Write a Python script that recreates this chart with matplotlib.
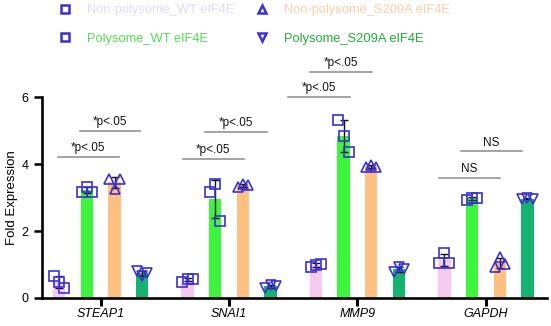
import numpy as np
import matplotlib
matplotlib.use('Agg')
import matplotlib.pyplot as plt
from matplotlib.lines import Line2D

plt.rcParams['font.family'] = ['Liberation Sans', 'DejaVu Sans']

# ---------------- data ----------------
genes = ['STEAP1', 'SNAI1', 'MMP9', 'GAPDH']
series_labels = ['Non-polysome_WT eIF4E', 'Polysome_WT eIF4E',
                 'Non-polysome_S209A eIF4E', 'Polysome_S209A eIF4E']

nonpoly_wt = [[0.67, 0.49, 0.31], [0.49, 0.57, 0.57], [0.92, 1.00, 1.02], [1.04, 1.33, 1.04]]
poly_wt = [[3.17, 3.32, 3.17], [3.15, 3.40, 2.30], [5.30, 4.85, 4.35], [2.93, 3.00, 3.00]]
nonpoly_s209a = [[3.55, 3.25, 3.55], [3.32, 3.40, 3.38], [3.90, 3.98, 3.92], [0.92, 1.22, 1.02]]
poly_s209a = [[0.80, 0.65, 0.76], [0.30, 0.38, 0.35], [0.78, 0.92, 0.88], [2.95, 2.98, 2.96]]

y_ticks = [0, 2, 4, 6]

# significance annotations: (gene index, left offset, right offset, height, label)
sig_group = [0, 0, 1, 1, 2, 2, 3, 3]
sig_left = [-0.335, -0.16, -0.36, -0.19, -0.54, -0.37, -0.365, -0.195]
sig_right = [0.145, 0.305, 0.115, 0.295, -0.06, 0.115, 0.11, 0.28]
sig_height = [4.22, 5.00, 4.16, 4.95, 6.00, 6.75, 3.59, 4.38]
sig_text = ['*p<.05', '*p<.05', '*p<.05', '*p<.05', '*p<.05', '*p<.05', 'NS', 'NS']

# ---------------- style ----------------
series_data = [nonpoly_wt, poly_wt, nonpoly_s209a, poly_s209a]
bar_colors = ['#f6c9ee', '#3df53d', '#ffbf80', '#16b370']
text_colors = ['#e6d8f2', '#55dd55', '#f8cfaa', '#1fae3a']
markers = ['s', 's', '^', 'v']
marker_color = '#3b30d6'
jitter = [-0.04, 0.0, 0.04]
slot = 0.2157
bar_width = 0.096

fig = plt.figure(figsize=(5.51, 3.26), dpi=100)
ax = fig.add_axes([42 / 551, 28 / 326, 505 / 551, 201 / 326])

x = np.arange(len(genes))
for si, data in enumerate(series_data):
    arr = np.array(data)
    means = arr.mean(axis=1)
    sds = arr.std(axis=1, ddof=1)
    pos = x + (si - 1.5) * slot
    ax.bar(pos, means, width=bar_width, color=bar_colors[si], zorder=2)
    ax.errorbar(pos, means, yerr=sds, fmt='none', ecolor='#111111',
                elinewidth=1.0, capsize=3, capthick=1.0, zorder=3)
    for gi in range(len(genes)):
        ax.plot(pos[gi] + np.array(jitter), arr[gi], linestyle='none',
                marker=markers[si], markersize=7.0, markerfacecolor='none',
                markeredgecolor=marker_color, markeredgewidth=1.2, zorder=4,
                clip_on=False)

for g, l, r, h, t in zip(sig_group, sig_left, sig_right, sig_height, sig_text):
    ax.plot([g + l, g + r], [h, h], color='#8a8a8a', lw=1.1, clip_on=False, zorder=1)
    ax.text(g + (l + r) / 2, h + 0.08, t, ha='center', va='bottom',
            fontsize=8.5, color='#111111', clip_on=False)

ax.set_xlim(-0.457, 3.476)
ax.set_ylim(0, 6)
ax.set_yticks(y_ticks)
ax.set_xticks(x)
ax.set_xticklabels(genes, fontstyle='italic', fontsize=9)
ax.tick_params(axis='x', length=6, width=2.2, pad=1.5, colors='black')
ax.tick_params(axis='y', length=5.5, width=1.8, pad=4, labelsize=9)
for s in ['top', 'right']:
    ax.spines[s].set_visible(False)
for s in ['left', 'bottom']:
    ax.spines[s].set_linewidth(1.9)
ax.set_ylabel('Fold Expression', fontsize=9.5, labelpad=3)

handles = [Line2D([], [], linestyle='none', marker=markers[i], markersize=5.5,
                  markerfacecolor='none', markeredgecolor=marker_color,
                  markeredgewidth=1.8) for i in range(4)]
leg = fig.legend(handles, series_labels, ncol=2, loc='upper left',
                 bbox_to_anchor=(58.75 / 551, 1 - 4 / 326), frameon=False,
                 fontsize=9.3, handlelength=1.0, handletextpad=1.22,
                 columnspacing=1.6, labelspacing=1.3, borderpad=0,
                 borderaxespad=0)
for txt, c in zip(leg.get_texts(), text_colors):
    txt.set_color(c)

fig.savefig('out.png', dpi=100)
